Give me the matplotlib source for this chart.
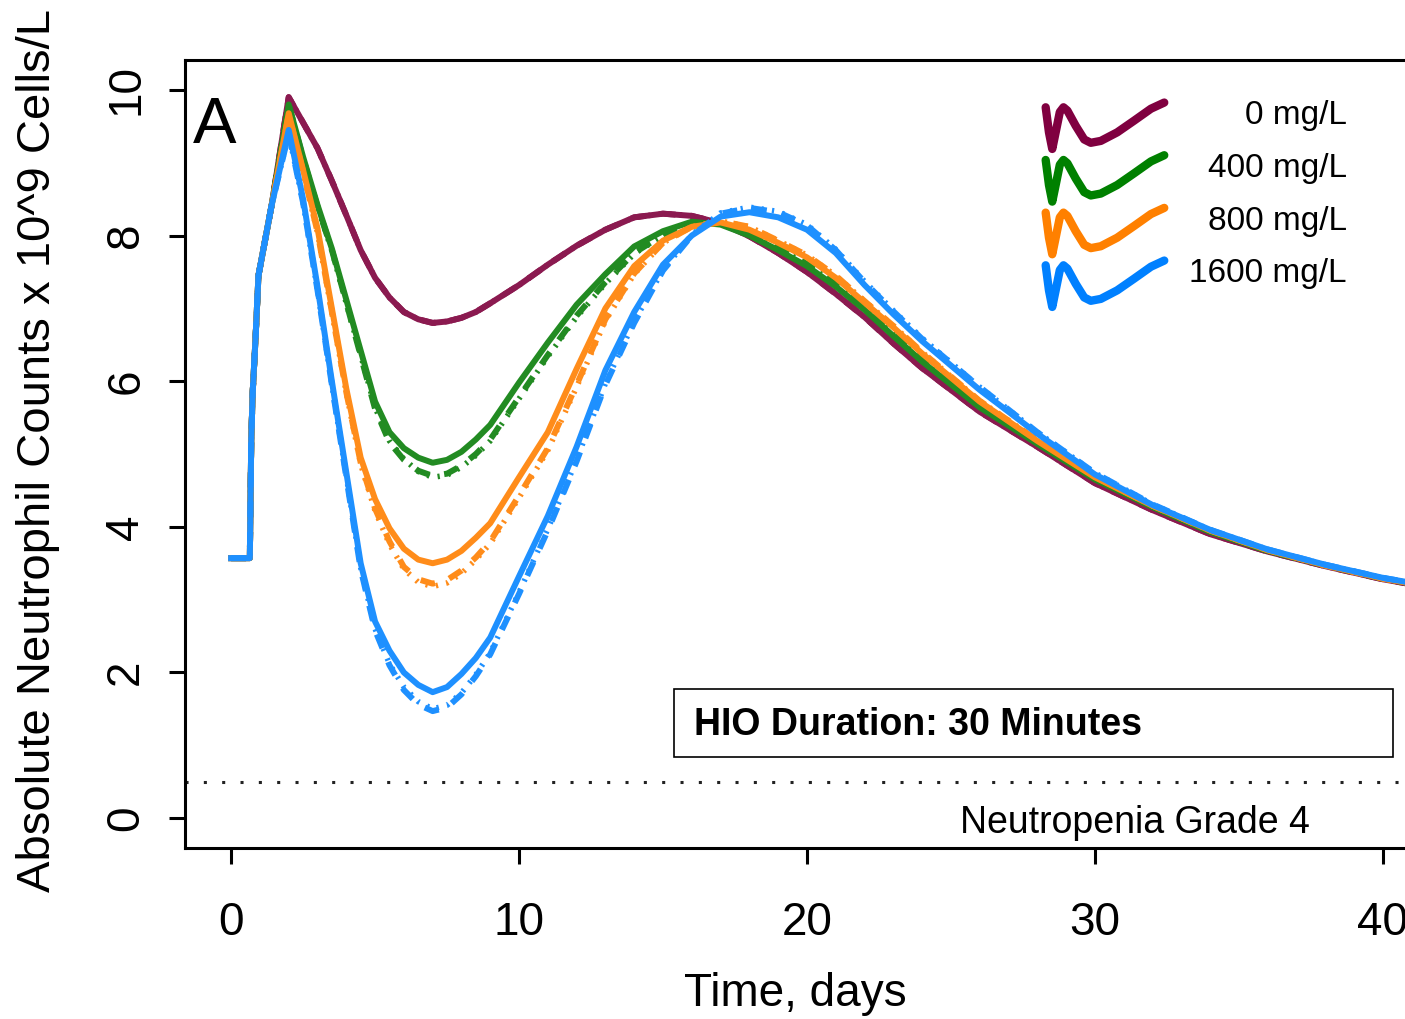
import numpy as np
import matplotlib
matplotlib.use('Agg')
import matplotlib.pyplot as plt
from matplotlib.patches import Rectangle
from matplotlib.lines import Line2D
from matplotlib.legend_handler import HandlerBase

plt.rcParams['font.family'] = ['Liberation Sans', 'DejaVu Sans']

# time grid (days)
t_days = [0, 0.65, 0.7, 0.75, 0.85, 0.95, 1.4,
          2.0, 2.5, 3.0, 3.5, 4.0, 4.5, 5.0, 5.5, 6.0, 6.5, 7.0, 7.5, 8.0, 8.5, 9.0,
          10, 11, 12, 13, 14, 15, 16, 17, 18, 19, 20, 21, 22, 23, 24,
          26, 28, 30, 32, 34, 36, 38, 40, 41.6]

# common rise before the first peak (all doses overlap here)
ramp = [3.57, 3.57, 5.2, 5.85, 6.6, 7.45, 8.4]

# values from day 2 onward, one list per dose and line type
anc0_solid = [9.9, 9.55, 9.2, 8.75, 8.28, 7.8, 7.42, 7.15, 6.95, 6.85, 6.8, 6.82, 6.87, 6.95, 7.07,
              7.32, 7.6, 7.86, 8.08, 8.25, 8.3, 8.27, 8.17, 7.99, 7.76, 7.5, 7.2, 6.88, 6.52, 6.18,
              5.58, 5.1, 4.6, 4.23, 3.9, 3.66, 3.46, 3.28, 3.17]
anc0_dashed = anc0_solid
anc0_dotted = anc0_solid

anc400_solid = [9.8, 9.08, 8.42, 7.82, 7.12, 6.42, 5.72, 5.3, 5.08, 4.95, 4.88, 4.92, 5.03, 5.2, 5.4,
                5.98, 6.53, 7.05, 7.47, 7.85, 8.06, 8.19, 8.15, 8.0, 7.8, 7.58, 7.3, 6.98, 6.62, 6.27,
                5.64, 5.14, 4.65, 4.27, 3.93, 3.67, 3.47, 3.29, 3.18]
anc400_dashed = [9.8, 9.06, 8.4, 7.8, 7.08, 6.35, 5.62, 5.16, 4.92, 4.77, 4.7, 4.73, 4.84, 5.0, 5.2,
                 5.78, 6.36, 6.9, 7.36, 7.76, 8.01, 8.17, 8.16, 8.03, 7.83, 7.61, 7.33, 7.0, 6.64, 6.29,
                 5.66, 5.15, 4.66, 4.28, 3.94, 3.67, 3.47, 3.29, 3.18]
anc400_dotted = [9.78, 9.05, 8.39, 7.79, 7.07, 6.36, 5.64, 5.18, 4.93, 4.76, 4.68, 4.71, 4.82, 4.98, 5.18,
                 5.76, 6.34, 6.88, 7.34, 7.75, 8.0, 8.16, 8.16, 8.03, 7.83, 7.61, 7.33, 7.0, 6.65, 6.3,
                 5.66, 5.15, 4.66, 4.28, 3.94, 3.67, 3.47, 3.29, 3.18]

anc800_solid = [9.68, 8.9, 8.1, 7.0, 5.9, 4.95, 4.38, 3.98, 3.7, 3.55, 3.5, 3.55, 3.67, 3.85, 4.05,
                4.68, 5.3, 6.17, 7.0, 7.58, 7.93, 8.12, 8.18, 8.08, 7.9, 7.7, 7.42, 7.08, 6.74, 6.38,
                5.72, 5.18, 4.68, 4.29, 3.95, 3.68, 3.47, 3.29, 3.18]
anc800_dashed = [9.66, 8.88, 8.05, 6.95, 5.85, 4.88, 4.25, 3.8, 3.45, 3.28, 3.22, 3.27, 3.4, 3.58, 3.8,
                 4.43, 5.08, 5.95, 6.85, 7.48, 7.9, 8.12, 8.2, 8.12, 7.93, 7.73, 7.45, 7.1, 6.76, 6.4,
                 5.73, 5.19, 4.69, 4.29, 3.95, 3.68, 3.47, 3.29, 3.18]
anc800_dotted = [9.64, 8.86, 8.04, 6.94, 5.84, 4.86, 4.22, 3.76, 3.42, 3.24, 3.18, 3.23, 3.36, 3.55, 3.77,
                 4.4, 5.05, 5.92, 6.83, 7.47, 7.9, 8.12, 8.2, 8.12, 7.93, 7.73, 7.45, 7.1, 6.76, 6.4,
                 5.73, 5.19, 4.69, 4.29, 3.95, 3.68, 3.47, 3.29, 3.18]

anc1600_solid = [9.45, 8.5, 7.3, 6.0, 4.75, 3.5, 2.7, 2.3, 2.0, 1.83, 1.73, 1.8, 1.98, 2.2, 2.48,
                 3.32, 4.15, 5.1, 6.15, 6.95, 7.6, 8.0, 8.26, 8.32, 8.25, 8.08, 7.76, 7.32, 6.92, 6.55,
                 5.88, 5.28, 4.72, 4.3, 3.96, 3.69, 3.48, 3.3, 3.19]
anc1600_dashed = [9.4, 8.45, 7.25, 5.95, 4.68, 3.42, 2.58, 2.1, 1.76, 1.56, 1.47, 1.52, 1.7, 1.95, 2.25,
                  3.08, 3.95, 4.9, 5.95, 6.8, 7.52, 8.0, 8.3, 8.38, 8.32, 8.14, 7.8, 7.36, 6.96, 6.58,
                  5.92, 5.3, 4.74, 4.31, 3.96, 3.69, 3.48, 3.3, 3.19]
anc1600_dotted = [9.4, 8.45, 7.25, 5.95, 4.7, 3.44, 2.6, 2.12, 1.8, 1.6, 1.5, 1.55, 1.72, 1.97, 2.27,
                  3.1, 3.97, 4.92, 5.97, 6.82, 7.53, 8.01, 8.31, 8.39, 8.33, 8.15, 7.81, 7.37, 6.97, 6.59,
                  5.92, 5.3, 4.74, 4.31, 3.96, 3.69, 3.48, 3.3, 3.19]

doses = ['0 mg/L', '400 mg/L', '800 mg/L', '1600 mg/L']
grade4_level = 0.5

line_colors = ['#8B1A50', '#228B22', '#FF8C1A', '#1E90FF']
glyph_colors = ['#800040', '#008000', '#FF8000', '#0080FF']

series = [(anc0_solid, anc0_dashed, anc0_dotted),
          (anc400_solid, anc400_dashed, anc400_dotted),
          (anc800_solid, anc800_dashed, anc800_dotted),
          (anc1600_solid, anc1600_dashed, anc1600_dotted)]

# little wave used as the legend key (shape only, unit box)
wave_x = [0.014, 0.041, 0.068, 0.096, 0.13, 0.16, 0.192, 0.26, 0.33, 0.384,
          0.466, 0.6, 0.74, 0.877, 0.986]
wave_y = [0.89, 0.36, 0.01, 0.36, 0.79, 0.89, 0.82, 0.5, 0.21, 0.14,
          0.18, 0.36, 0.61, 0.86, 0.99]


class WaveHandler(HandlerBase):
    def create_artists(self, legend, orig_handle, xdescent, ydescent,
                       width, height, fontsize, trans):
        gh = 1.42 * fontsize
        y0 = -0.75 * fontsize
        xs = [-xdescent + gx * width for gx in wave_x]
        ys = [y0 + gy * gh for gy in wave_y]
        line = Line2D(xs, ys, color=orig_handle.get_color(),
                      lw=orig_handle.get_linewidth(),
                      solid_joinstyle='round', solid_capstyle='round',
                      transform=trans)
        return [line]


fig = plt.figure(figsize=(14.05, 10.19), dpi=100)
ax = fig.add_axes([0.1317, 0.1678, 0.8853, 0.7733])

for (solid, dashed, dotted), col in zip(series, line_colors):
    ax.plot(t_days, ramp + solid, color=col, lw=4.3, solid_joinstyle='round')
    ax.plot(t_days, ramp + dashed, color=col, lw=4.3, dashes=(2.5, 2.5))
    ax.plot(t_days, ramp + dotted, color=col, lw=4.0, dashes=(0.4, 1.5))

ax.axhline(grade4_level, color='#222222', lw=2.2, dashes=(1, 5), zorder=1)

# annotation box
ax.add_patch(Rectangle((15.38, 0.838), 24.97, 0.934, fill=False, lw=1.2, ec='black'))
ax.text(16.08, 1.14, 'HIO Duration: 30 Minutes', fontsize=27, fontweight='bold',
        ha='left', va='baseline')
ax.text(31.4, -0.2, 'Neutropenia Grade 4', fontsize=27, ha='center', va='baseline')
ax.text(0.0064, 0.8947, 'A', transform=ax.transAxes, fontsize=47, va='baseline')

ax.set_xlim(-1.6, 41.6)
ax.set_ylim(-0.41, 10.41)
ax.set_xticks([0, 10, 20, 30, 40])
ax.set_yticks([0, 2, 4, 6, 8, 10])
ax.tick_params(direction='out', length=11.5, width=2.2, labelsize=33)
ax.tick_params(axis='x', pad=27)
ax.tick_params(axis='y', pad=15, labelrotation=90)
plt.setp(ax.get_yticklabels(), va='center')
for sp in ax.spines.values():
    sp.set_linewidth(2.2)

ax.set_xlabel('Time, days', fontsize=33)
ax.xaxis.set_label_coords(0.491, -0.157)
ax.set_ylabel('Absolute Neutrophil Counts x 10^9 Cells/L', fontsize=34)
ax.yaxis.set_label_coords(-0.1005, 0.505)

handles = [Line2D([], [], color=c, lw=6) for c in glyph_colors]
leg = ax.legend(handles, doses, handler_map={Line2D: WaveHandler()},
                loc='upper right', bbox_to_anchor=(0.934, 0.9555),
                fontsize=24, frameon=False, handlelength=3.66, handleheight=1.3,
                labelspacing=0.49, handletextpad=0.7, borderpad=0, borderaxespad=0)

# right-justify the legend labels
fig.canvas.draw()
widths = [tx.get_window_extent().width for tx in leg.get_texts()]
for tx, w in zip(leg.get_texts(), widths):
    tx.set_position((max(widths) - w, 0))

fig.savefig('out.png', dpi=100)
